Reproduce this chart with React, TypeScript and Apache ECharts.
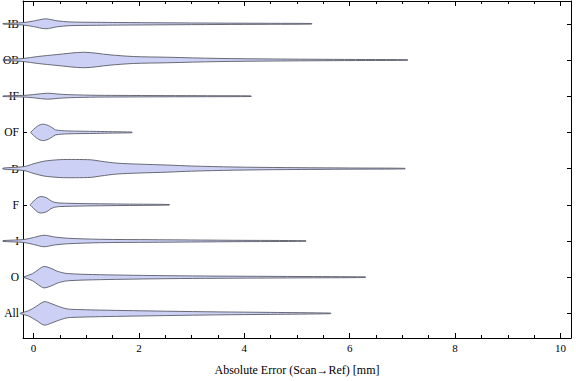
import React, { useEffect, useRef } from "react";
import * as echarts from "echarts";

const categories = ["IB", "OB", "IF", "OF", "B", "F", "I", "O", "All"];
const xTickLabels = [0, 2, 4, 6, 8, 10];
const xMinorTicks = [0.5, 1, 1.5, 2.5, 3, 3.5, 4.5, 5, 5.5, 6.5, 7, 7.5, 8.5, 9, 9.5];
const yTickValues = [0, 1, 2, 3, 4, 5, 6, 7, 8];

// [absolute error, density] pairs per group
const profileIB = [[-0.58, 0.3], [-0.2, 1.2], [0, 2.8], [0.23, 5], [0.45, 3], [0.68, 1.9], [1.2, 1.5], [1.6, 1.3], [2.5, 1.0], [3.5, 0.7], [4.5, 0.5], [5.28, 0.3]];
const profileOB = [[-0.58, 0.3], [-0.2, 1.5], [0.08, 3.5], [0.45, 5.5], [0.96, 7.8], [1.45, 5.2], [1.9, 3.5], [2.53, 2.8], [3.5, 1.6], [4.6, 1.0], [5.5, 0.7], [6.3, 0.5], [7.1, 0.3]];
const profileIF = [[-0.58, 0.3], [-0.2, 0.8], [0, 1.6], [0.26, 3], [0.55, 1.8], [1.08, 1.0], [1.6, 0.8], [2.5, 0.6], [3.3, 0.5], [4.13, 0.3]];
const profileOF = [[-0.05, 0.3], [0.0, 3], [0.08, 6.5], [0.17, 8.3], [0.28, 7], [0.36, 4.5], [0.42, 2.5], [0.64, 1.5], [1.2, 1.0], [1.5, 0.7], [1.87, 0.3]];
const profileB = [[-0.58, 0.5], [-0.18, 2], [0.01, 5], [0.2, 7.5], [0.5, 9], [0.8, 9.2], [1.1, 8.8], [1.27, 7.5], [1.58, 5.5], [2.0, 4.5], [2.53, 3.6], [3.0, 2.6], [3.8, 1.6], [4.8, 1.0], [6.0, 0.6], [7.05, 0.3]];
const profileF = [[-0.06, 0.3], [0.0, 3.5], [0.07, 7], [0.14, 8.3], [0.25, 7], [0.33, 4], [0.4, 2.5], [0.5, 1.8], [0.96, 1.2], [1.58, 0.8], [2.58, 0.3]];
const profileI = [[-0.58, 0.4], [-0.18, 1.5], [0.0, 3.5], [0.2, 5.8], [0.4, 4], [0.64, 2.8], [1.27, 1.7], [2.25, 1.3], [2.53, 1.2], [3.8, 0.7], [5.17, 0.3]];
const profileO = [[-0.18, 0.3], [-0.02, 3.5], [0.1, 8], [0.2, 10.8], [0.35, 8.5], [0.45, 6], [0.64, 3.7], [1.27, 2.5], [2.53, 1.5], [3.5, 1.1], [5.0, 0.7], [6.3, 0.3]];
const profileAll = [[-0.25, 0.3], [-0.1, 2.5], [0.05, 7], [0.2, 11.8], [0.33, 10], [0.45, 7.5], [0.64, 4.5], [0.9, 3.8], [1.27, 3.3], [2.53, 2.2], [3.5, 1.5], [4.5, 1.0], [5.64, 0.3]];

const profiles = [profileIB, profileOB, profileIF, profileOF, profileB, profileF, profileI, profileO, profileAll];

const FONT = "'Liberation Serif', 'Times New Roman', serif";

export default function App() {
  const ref = useRef<HTMLDivElement>(null);
  useEffect(() => {
    if (!ref.current) return;
    const chart = echarts.init(ref.current, null, { renderer: "svg" });
    const widthScale = 1 / 36.5;
    const frameLine = { show: true, onZero: false, lineStyle: { color: "#000", width: 1 } };
    const noLine = { show: false, onZero: false };
    const baseX = { type: "value", min: -0.2, max: 10.2, splitLine: { show: false } };
    const baseY = { type: "value", inverse: true, min: -0.63, max: 8.68, splitLine: { show: false } };
    chart.setOption({
      animation: false,
      textStyle: { fontFamily: FONT },
      grid: { left: 20, right: 5, top: 1, bottom: 40 },
      xAxis: [
        {
          ...baseX,
          position: "bottom",
          axisLine: frameLine,
          axisTick: { show: true, inside: true, length: 5, customValues: xTickLabels, lineStyle: { color: "#000" } },
          axisLabel: { show: true, customValues: xTickLabels, color: "#000", fontSize: 11, margin: 4, fontFamily: FONT },
          name: "Absolute Error (Scan\u2192Ref) [mm]",
          nameLocation: "middle",
          nameGap: 26,
          nameTextStyle: { color: "#000", fontSize: 12, fontFamily: FONT },
        },
        {
          ...baseX,
          position: "bottom",
          axisLine: noLine,
          axisTick: { show: true, inside: true, length: 3, customValues: xMinorTicks, lineStyle: { color: "#000" } },
          axisLabel: { show: false },
        },
        {
          ...baseX,
          position: "top",
          axisLine: frameLine,
          axisTick: { show: true, inside: true, length: 5, customValues: xTickLabels, lineStyle: { color: "#000" } },
          axisLabel: { show: false },
        },
        {
          ...baseX,
          position: "top",
          axisLine: noLine,
          axisTick: { show: true, inside: true, length: 3, customValues: xMinorTicks, lineStyle: { color: "#000" } },
          axisLabel: { show: false },
        },
      ],
      yAxis: [
        {
          ...baseY,
          position: "left",
          axisLine: frameLine,
          axisTick: { show: true, inside: true, length: 4, customValues: yTickValues, lineStyle: { color: "#000" } },
          axisLabel: {
            show: true,
            customValues: yTickValues,
            formatter: (v: number) => categories[Math.round(v)] ?? "",
            color: "#000",
            fontSize: 11.5,
            margin: 4,
            fontFamily: FONT,
          },
        },
        {
          ...baseY,
          position: "right",
          axisLine: frameLine,
          axisTick: { show: true, inside: true, length: 4, customValues: yTickValues, lineStyle: { color: "#000" } },
          axisLabel: { show: false },
        },
      ],
      series: [
        {
          type: "custom",
          coordinateSystem: "cartesian2d",
          xAxisIndex: 0,
          yAxisIndex: 0,
          clip: false,
          data: categories.map((c, i) => [0, i]),
          renderItem: (params: any, api: any) => {
            const i = api.value(1);
            const prof = profiles[i];
            const upper = prof.map(([x, d]) => api.coord([x, i - d * widthScale]));
            const lower = prof
              .slice()
              .reverse()
              .map(([x, d]) => api.coord([x, i + d * widthScale]));
            return {
              type: "polygon",
              shape: { points: upper.concat(lower), smooth: 0.3 },
              style: { fill: "#ccd0f5", stroke: "#5a5c68", lineWidth: 0.9 },
            };
          },
        },
      ],
    });
    return () => chart.dispose();
  }, []);
  return (
    <div
      ref={ref}
      style={{ position: "fixed", left: 0, top: 0, width: 576, height: 381, background: "#fff" }}
    />
  );
}
